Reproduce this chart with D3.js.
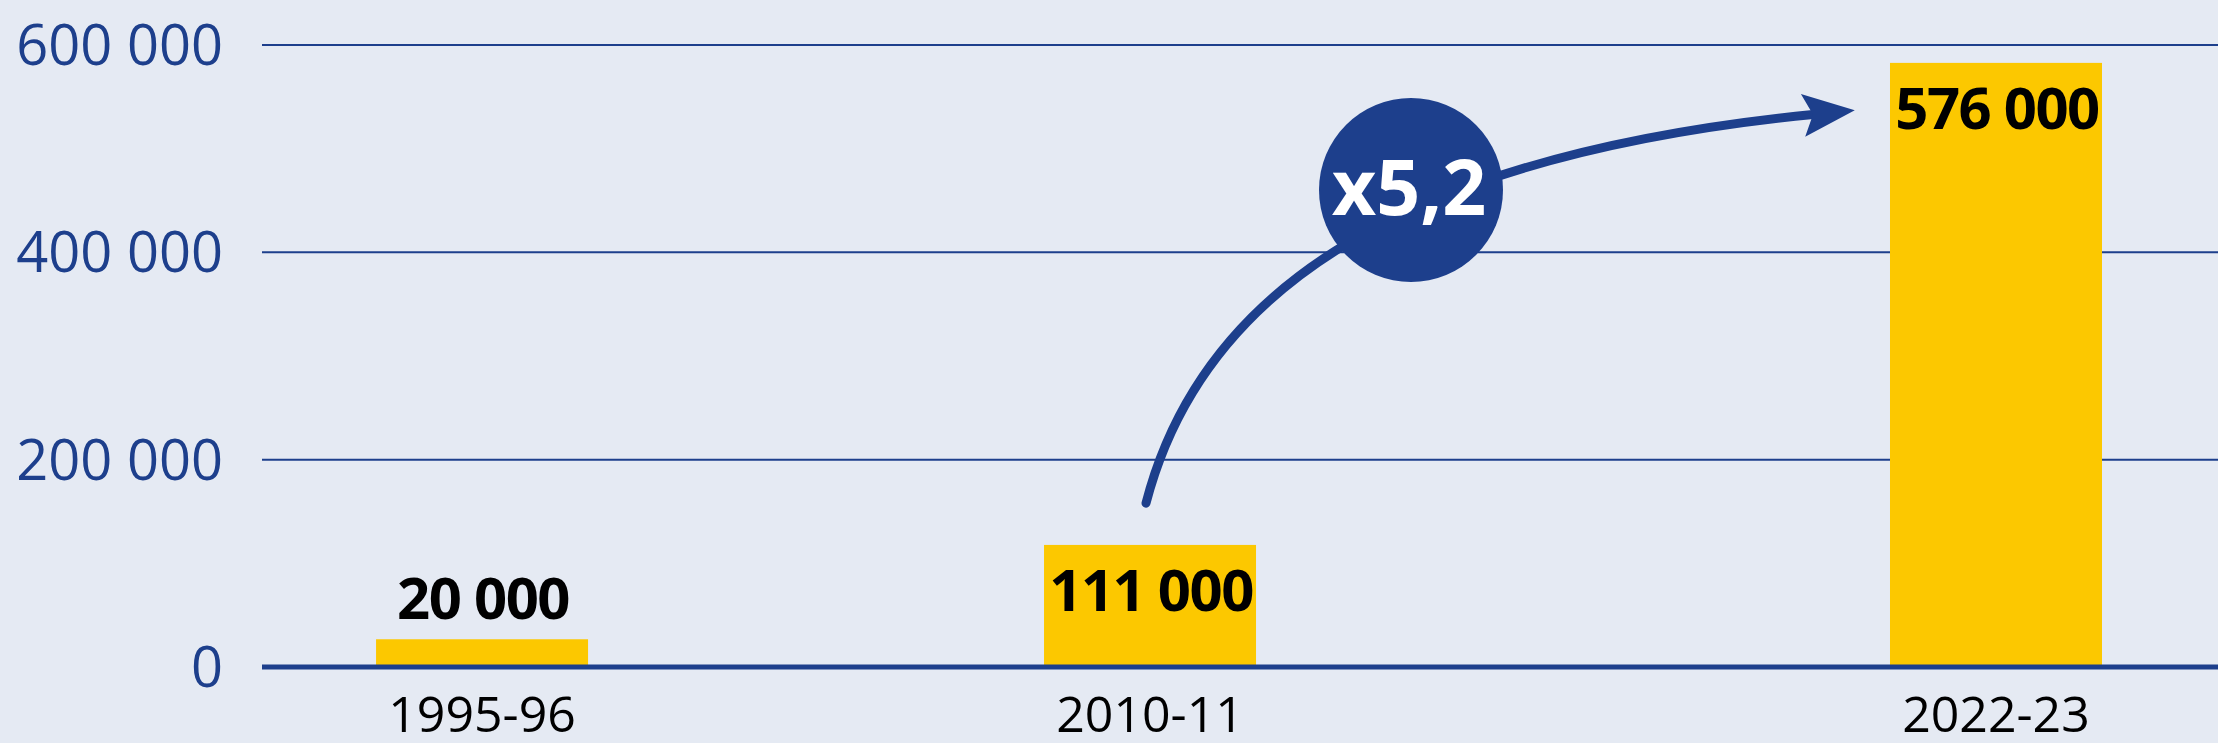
<!DOCTYPE html>
<html>
<head>
<meta charset="utf-8">
<script src="https://cdn.jsdelivr.net/npm/d3@7"></script>
<style>
  html, body { margin: 0; padding: 0; background: #e5eaf3; }
  svg { display: block; }
  text { font-family: "Open Sans", "Noto Sans", sans-serif; }
</style>
</head>
<body>
<svg id="chart"></svg>
<script>
// data
var categories = ["1995-96", "2010-11", "2022-23"];
var values = [20000, 111000, 576000];
var valueLabels = ["20 000", "111 000", "576 000"];
var yTicks = [0, 200000, 400000, 600000];
var yTickLabels = ["0", "200 000", "400 000", "600 000"];
var ratioLabel = "x5,2";

var WIDTH = 2218;
var HEIGHT = 743;
var BLUE = "#1d3f8c";
var YELLOW = "#fcc800";

var plotLeft = 262, plotRight = WIDTH;
var slotFrac = [0.1125, 0.454, 0.8865]; // where each bar sits across the plot
var barWidth = 212;
var barLift = 7;

var svg = d3.select("#chart")
    .attr("width", WIDTH)
    .attr("height", HEIGHT);

svg.append("rect")
    .attr("width", WIDTH)
    .attr("height", HEIGHT)
    .attr("fill", "#e5eaf3");

var y = d3.scaleLinear()
    .domain([0, 600000])
    .range([667, 45]);

var x = d3.scaleOrdinal()
    .domain(categories)
    .range(slotFrac.map(f => plotLeft + f * (plotRight - plotLeft)));

var data = categories.map((c, i) => ({ cat: c, value: values[i], label: valueLabels[i] }));

// gridlines
svg.append("g")
    .selectAll("line")
    .data(yTicks.filter(t => t > 0))
    .enter().append("line")
    .attr("x1", plotLeft)
    .attr("x2", plotRight)
    .attr("y1", d => y(d))
    .attr("y2", d => y(d))
    .attr("stroke", BLUE)
    .attr("stroke-width", 2);

// tick labels
svg.append("g")
    .selectAll("text")
    .data(yTicks)
    .enter().append("text")
    .attr("x", 223)
    .attr("y", d => y(d) + 20)
    .attr("text-anchor", "end")
    .attr("font-size", 56)
    .attr("fill", BLUE)
    .text((d, i) => yTickLabels[i]);

// bars
svg.append("g")
    .selectAll("rect")
    .data(data)
    .enter().append("rect")
    .attr("x", d => x(d.cat) - barWidth / 2)
    .attr("width", barWidth)
    .attr("y", d => y(d.value) - barLift)
    .attr("height", d => y(0) - y(d.value) + barLift)
    .attr("fill", YELLOW);

// baseline
svg.append("line")
    .attr("x1", plotLeft)
    .attr("x2", plotRight)
    .attr("y1", y(0))
    .attr("y2", y(0))
    .attr("stroke", BLUE)
    .attr("stroke-width", 5);

// value labels: above short bars, inside tall ones
svg.append("g")
    .selectAll("text")
    .data(data)
    .enter().append("text")
    .attr("x", d => x(d.cat) + 1)
    .attr("y", d => {
        var top = y(d.value) - barLift;
        return d.value < 50000 ? top - 20 : top + 66;
    })
    .attr("text-anchor", "middle")
    .attr("font-size", 58)
    .attr("font-weight", 700)
    .attr("letter-spacing", -1.5)
    .attr("fill", "#000")
    .text(d => d.label);

// category labels
svg.append("g")
    .selectAll("text")
    .data(data)
    .enter().append("text")
    .attr("x", d => x(d.cat))
    .attr("y", 732)
    .attr("text-anchor", "middle")
    .attr("font-size", 50)
    .attr("fill", "#000")
    .text(d => d.cat);

// growth arrow from 2010-11 to 2022-23
var p0 = [x(categories[1]) - 4, y(158000)];
var p3 = [x(categories[2]) - barWidth / 2 - 77, y(533000)];
var p1 = [p0[0] + 57, p0[1] - 220];
var p2 = [p3[0] - 400, p3[1] + 40];

var path = d3.path();
path.moveTo(p0[0], p0[1]);
path.bezierCurveTo(p1[0], p1[1], p2[0], p2[1], p3[0], p3[1]);

svg.append("path")
    .attr("d", path.toString())
    .attr("fill", "none")
    .attr("stroke", BLUE)
    .attr("stroke-width", 9)
    .attr("stroke-linecap", "round");

var ang = Math.atan2(p3[1] - p2[1], p3[0] - p2[0]) * 180 / Math.PI;
svg.append("path")
    .attr("d", "M42,0 L-10,-21.5 L0,0 L-10,21.5 Z")
    .attr("fill", BLUE)
    .attr("transform", "translate(" + p3[0] + "," + p3[1] + ") rotate(" + ang + ")");

// ratio bubble
var cx = 1411, cy = 190;
svg.append("circle")
    .attr("cx", cx)
    .attr("cy", cy)
    .attr("r", 92)
    .attr("fill", BLUE);

svg.append("text")
    .attr("x", cx - 2)
    .attr("y", cy + 25)
    .attr("text-anchor", "middle")
    .attr("font-size", 77)
    .attr("font-weight", 700)
    .attr("fill", "#fff")
    .text(ratioLabel);
</script>
</body>
</html>
